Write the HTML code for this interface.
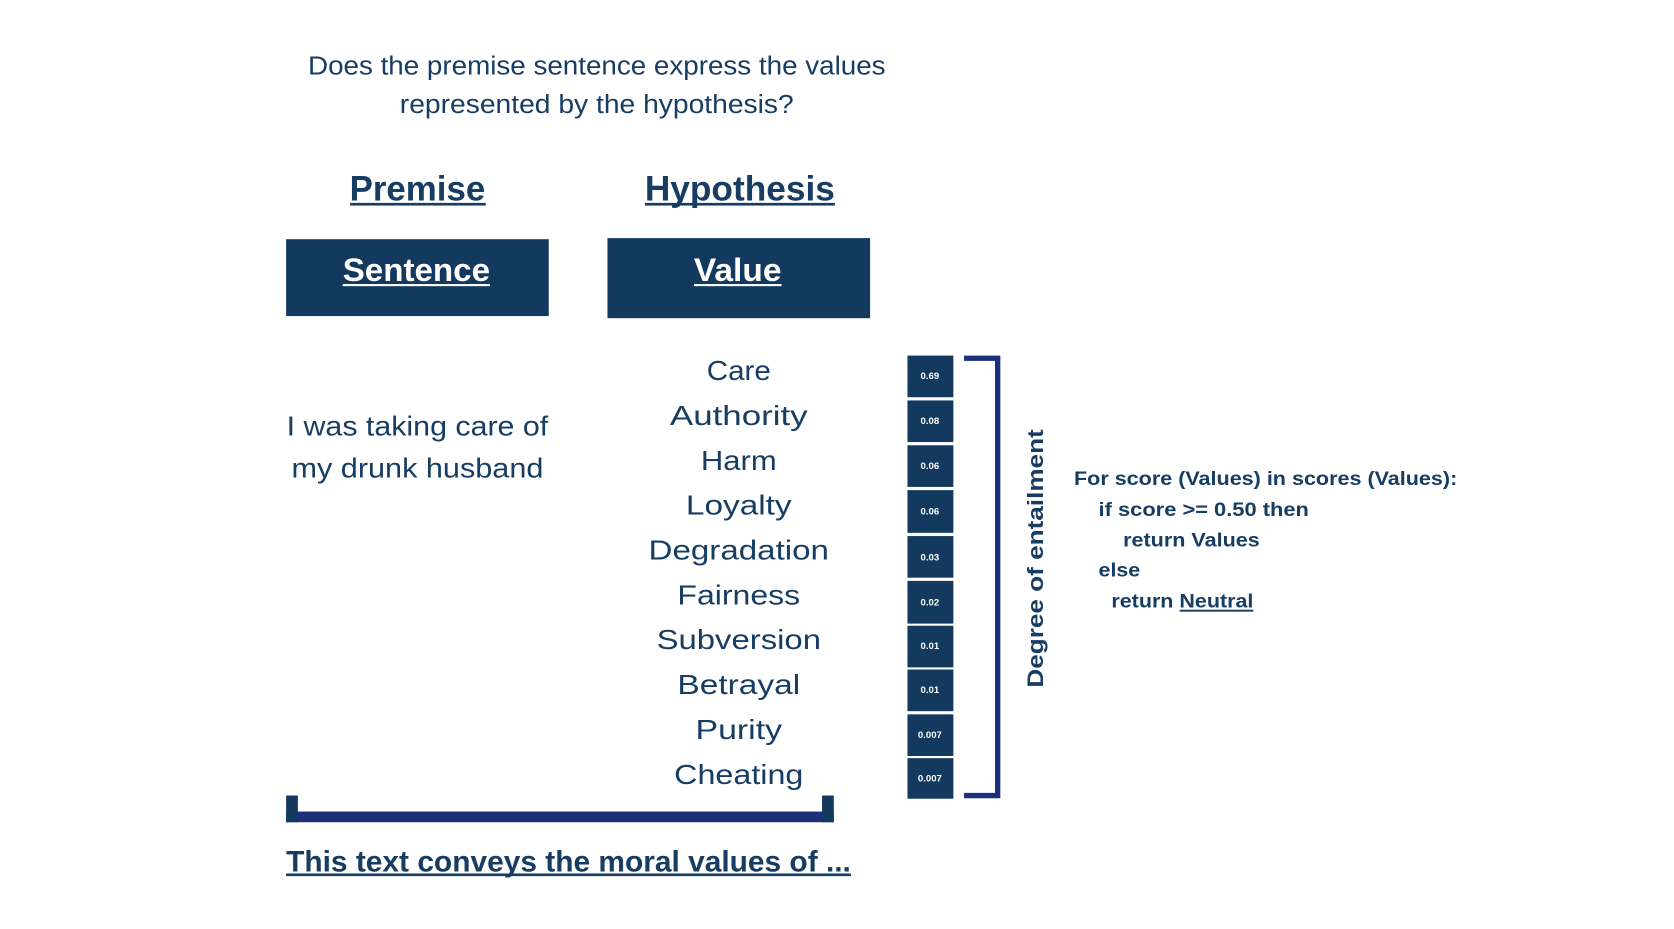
<!DOCTYPE html>
<html><head><meta charset="utf-8"><style>
html,body{margin:0;padding:0;background:#fff;width:1674px;height:929px;overflow:hidden}
svg{display:block}
text{font-family:"Liberation Sans",sans-serif;fill:#173d63}
</style></head><body>
<svg width="1674" height="929" viewBox="0 0 1568 870" preserveAspectRatio="none" xmlns="http://www.w3.org/2000/svg">
<rect width="1568" height="870" fill="#fff"/>
<text x="559" y="70" font-size="24" text-anchor="middle" textLength="541" lengthAdjust="spacingAndGlyphs">Does the premise sentence express the values</text>
<text x="559" y="106" font-size="24" text-anchor="middle" textLength="369" lengthAdjust="spacingAndGlyphs">represented by the hypothesis?</text>

<text x="391" y="188" font-size="33" font-weight="bold" text-anchor="middle" textLength="127" lengthAdjust="spacingAndGlyphs">Premise</text>
<rect x="328" y="190" width="127" height="2.5" fill="#173d63"/>
<text x="693" y="188" font-size="33" font-weight="bold" text-anchor="middle" textLength="178" lengthAdjust="spacingAndGlyphs">Hypothesis</text>
<rect x="604" y="190" width="178" height="2.5" fill="#173d63"/>

<rect x="268" y="224" width="246" height="72" fill="#133a5e"/>
<text x="390" y="263" font-size="30" font-weight="bold" text-anchor="middle" style="fill:#fff" textLength="138" lengthAdjust="spacingAndGlyphs">Sentence</text>
<rect x="321" y="266" width="138" height="2" fill="#fff"/>
<rect x="569" y="223" width="246" height="75" fill="#133a5e"/>
<text x="691" y="263" font-size="30" font-weight="bold" text-anchor="middle" style="fill:#fff" textLength="82" lengthAdjust="spacingAndGlyphs">Value</text>
<rect x="650" y="266" width="82" height="2" fill="#fff"/>

<text x="391" y="408" font-size="26" text-anchor="middle" textLength="245" lengthAdjust="spacingAndGlyphs">I was taking care of</text>
<text x="391" y="447" font-size="26" text-anchor="middle" textLength="236" lengthAdjust="spacingAndGlyphs">my drunk husband</text>

<g font-size="26" text-anchor="middle">
<text x="692" y="356" textLength="60" lengthAdjust="spacingAndGlyphs">Care</text>
<text x="692" y="398" textLength="129" lengthAdjust="spacingAndGlyphs">Authority</text>
<text x="692" y="440" textLength="71" lengthAdjust="spacingAndGlyphs">Harm</text>
<text x="692" y="482" textLength="99" lengthAdjust="spacingAndGlyphs">Loyalty</text>
<text x="692" y="524" textLength="169" lengthAdjust="spacingAndGlyphs">Degradation</text>
<text x="692" y="566" textLength="115" lengthAdjust="spacingAndGlyphs">Fairness</text>
<text x="692" y="608" textLength="154" lengthAdjust="spacingAndGlyphs">Subversion</text>
<text x="692" y="650" textLength="115" lengthAdjust="spacingAndGlyphs">Betrayal</text>
<text x="692" y="692" textLength="81" lengthAdjust="spacingAndGlyphs">Purity</text>
<text x="692" y="734" textLength="121" lengthAdjust="spacingAndGlyphs">Cheating</text>
</g>

<g fill="#133a5e">
<rect x="850" y="333" width="43" height="39"/>
<rect x="850" y="375" width="43" height="39"/>
<rect x="850" y="417" width="43" height="39"/>
<rect x="850" y="459" width="43" height="40"/>
<rect x="850" y="502" width="43" height="39"/>
<rect x="850" y="544" width="43" height="40"/>
<rect x="850" y="586" width="43" height="39"/>
<rect x="850" y="627" width="43" height="39"/>
<rect x="850" y="669" width="43" height="39"/>
<rect x="850" y="710" width="43" height="38"/>
</g>
<g font-size="9" font-weight="bold" text-anchor="middle">
<text x="871" y="355" style="fill:#fff">0.69</text>
<text x="871" y="397" style="fill:#fff">0.08</text>
<text x="871" y="439" style="fill:#fff">0.06</text>
<text x="871" y="482" style="fill:#fff">0.06</text>
<text x="871" y="525" style="fill:#fff">0.03</text>
<text x="871" y="567" style="fill:#fff">0.02</text>
<text x="871" y="608" style="fill:#fff">0.01</text>
<text x="871" y="649" style="fill:#fff">0.01</text>
<text x="871" y="691" style="fill:#fff">0.007</text>
<text x="871" y="732" style="fill:#fff">0.007</text>
</g>

<path d="M903 335.5 H934.5 V745 H903" fill="none" stroke="#1b2f7d" stroke-width="5"/>

<text transform="translate(977 523) rotate(-90)" font-size="21" font-weight="bold" text-anchor="middle" textLength="242" lengthAdjust="spacingAndGlyphs">Degree of entailment</text>

<g font-size="18" font-weight="bold">
<text x="1006" y="454" textLength="359" lengthAdjust="spacingAndGlyphs">For score (Values) in scores (Values):</text>
<text x="1029" y="483" textLength="197" lengthAdjust="spacingAndGlyphs">if score &gt;= 0.50 then</text>
<text x="1052" y="512" textLength="128" lengthAdjust="spacingAndGlyphs">return Values</text>
<text x="1029" y="540" textLength="39" lengthAdjust="spacingAndGlyphs">else</text>
<text x="1041" y="569" textLength="133" lengthAdjust="spacingAndGlyphs">return Neutral</text>
</g>
<rect x="1105" y="571" width="69" height="1.8" fill="#173d63"/>

<rect x="268" y="760" width="513" height="10" fill="#1b2f7d"/>
<rect x="268" y="745" width="11" height="25" fill="#133a5e"/>
<rect x="770" y="745" width="11" height="25" fill="#133a5e"/>

<text x="268" y="816" font-size="28" font-weight="bold" textLength="529" lengthAdjust="spacingAndGlyphs">This text conveys the moral values of ...</text>
<rect x="268" y="818" width="529" height="2.5" fill="#173d63"/>
</svg>
</body></html>
